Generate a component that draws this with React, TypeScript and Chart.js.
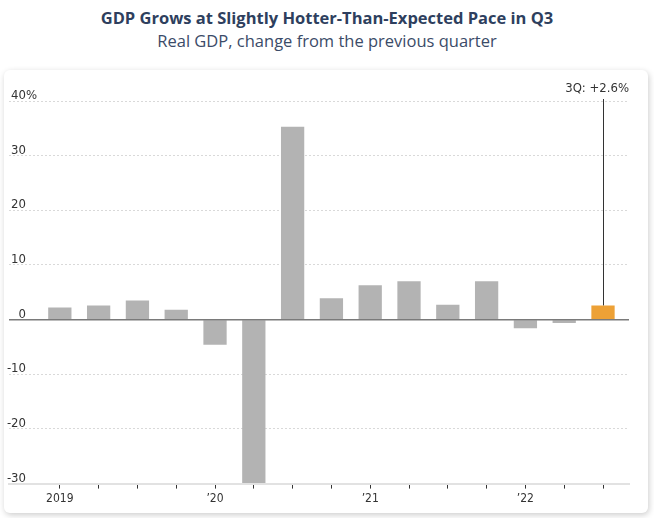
import { useEffect, useRef } from "react";
import Chart from "chart.js/auto";

const quarters = [
  "2019 Q1", "2019 Q2", "2019 Q3", "2019 Q4",
  "2020 Q1", "2020 Q2", "2020 Q3", "2020 Q4",
  "2021 Q1", "2021 Q2", "2021 Q3", "2021 Q4",
  "2022 Q1", "2022 Q2", "2022 Q3",
];
const growth = [2.2, 2.6, 3.5, 1.8, -4.6, -29.9, 35.3, 3.9, 6.3, 7.0, 2.7, 7.0, -1.6, -0.6, 2.6];
const yearIndex = [0, 4, 8, 12];
const yearLabels = ["2019", "\u201920", "\u201921", "\u201922"];
const yTicks = [-30, -20, -10, 0, 10, 20, 30, 40];
const calloutLabel = "3Q: +2.6%";

const GREY = "#b3b3b3";
const ORANGE = "#eda136";
const FONT = "'Liberation Sans Narrow', 'DejaVu Sans Condensed', 'Roboto', sans-serif";

// y labels sit inside the plot, just above each grid line
const yLabelPlugin = {
  id: "yLabels",
  afterDraw(chart: any) {
    const { ctx, chartArea, scales } = chart;
    const y = scales.y;
    const right = chartArea.left + 17;
    ctx.save();
    ctx.font = `13px ${FONT}`;
    ctx.fillStyle = "#333";
    ctx.textBaseline = "alphabetic";
    yTicks.forEach((v, i) => {
      const py = y.getPixelForValue(v) - 2;
      ctx.textAlign = "right";
      ctx.fillText(String(v), right, py);
      if (i === yTicks.length - 1) {
        ctx.textAlign = "left";
        ctx.fillText("%", right, py);
      }
    });
    ctx.restore();
  },
};

// zero line + callout for latest quarter
const calloutPlugin = {
  id: "callout",
  afterDatasetsDraw(chart: any) {
    const { ctx, chartArea, scales } = chart;
    const zero = scales.y.getPixelForValue(0);
    ctx.save();
    ctx.strokeStyle = "#7a7a7a";
    ctx.lineWidth = 1.5;
    ctx.beginPath();
    ctx.moveTo(chartArea.left, zero);
    ctx.lineTo(chartArea.right, zero);
    ctx.stroke();

    const meta = chart.getDatasetMeta(0);
    const bar = meta.data[meta.data.length - 1];
    ctx.strokeStyle = "#333";
    ctx.lineWidth = 1;
    ctx.beginPath();
    ctx.moveTo(Math.round(bar.x) + 0.5, bar.y);
    ctx.lineTo(Math.round(bar.x) + 0.5, chartArea.top - 2);
    ctx.stroke();

    ctx.font = `13px ${FONT}`;
    ctx.fillStyle = "#333";
    ctx.textAlign = "right";
    ctx.textBaseline = "alphabetic";
    ctx.fillText(calloutLabel, chartArea.right, chartArea.top - 9);
    ctx.restore();
  },
};

export default function App() {
  const canvasRef = useRef<HTMLCanvasElement | null>(null);

  useEffect(() => {
    if (!canvasRef.current) return;
    const ctx = canvasRef.current.getContext("2d");
    if (!ctx) return;

    Chart.defaults.font.family = FONT;

    const chart = new Chart(ctx, {
      type: "bar",
      data: {
        labels: quarters,
        datasets: [
          {
            data: growth.map((y, i) => ({ x: i, y })),
            backgroundColor: growth.map((_, i) => (i === growth.length - 1 ? ORANGE : GREY)),
            barPercentage: 0.6,
            categoryPercentage: 1,
          },
        ],
      },
      options: {
        animation: false,
        responsive: true,
        maintainAspectRatio: false,
        layout: { padding: { left: 5, right: 19, top: 31, bottom: 4 } },
        plugins: {
          legend: { display: false },
          tooltip: { enabled: false },
        },
        scales: {
          x: {
            type: "linear",
            min: -1.31,
            max: 14.67,
            offset: false,
            afterBuildTicks: (scale: any) => {
              scale.ticks = quarters.map((_, i) => ({ value: i }));
            },
            ticks: {
              autoSkip: false,
              maxRotation: 0,
              padding: 3,
              color: "#333",
              font: { size: 12 },
              callback: (value: any) => {
                const k = yearIndex.indexOf(Number(value));
                return k >= 0 ? yearLabels[k] : "";
              },
            },
            grid: {
              offset: false,
              drawOnChartArea: false,
              drawTicks: true,
              tickLength: 5,
              color: "#333",
            },
            border: { display: true, color: "#e2e2e2", width: 2 },
          },
          y: {
            min: -30,
            max: 40,
            afterBuildTicks: (scale: any) => {
              scale.ticks = yTicks.map((v) => ({ value: v }));
            },
            ticks: { display: false },
            grid: { drawTicks: false, color: "#d9d9d9", lineWidth: 1 },
            border: { display: false, dash: [2, 2] },
          },
        },
      },
      plugins: [yLabelPlugin, calloutPlugin],
    });

    return () => chart.destroy();
  }, []);

  return (
    <div
      style={{
        position: "absolute",
        left: 0,
        top: 0,
        width: 654,
        height: 518,
        background: "#fff",
        fontFamily: "'Open Sans', sans-serif",
      }}
    >
      <div
        style={{
          position: "absolute",
          top: 6,
          left: 0,
          width: 654,
          textAlign: "center",
          fontSize: 16.5,
          lineHeight: "24px",
          fontWeight: 700,
          color: "#2e3f5e",
        }}
      >
        GDP Grows at Slightly Hotter-Than-Expected Pace in Q3
      </div>
      <div
        style={{
          position: "absolute",
          top: 29,
          left: 0,
          width: 654,
          textAlign: "center",
          fontSize: 16.5,
          lineHeight: "24px",
          color: "#3b4b68",
        }}
      >
        Real GDP, change from the previous quarter
      </div>
      <div
        style={{
          position: "absolute",
          left: 4,
          top: 70,
          width: 644,
          height: 443,
          background: "#fff",
          borderRadius: 6,
          boxShadow: "1px 2px 6px rgba(0,0,0,0.2)",
        }}
      >
        <canvas ref={canvasRef}></canvas>
      </div>
    </div>
  );
}
